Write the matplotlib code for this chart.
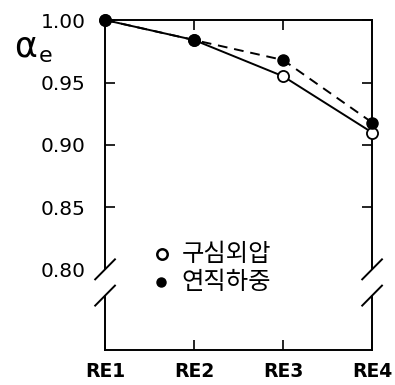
import matplotlib.pyplot as plt
import numpy as np

plt.rcParams['font.family'] = ['DejaVu Sans']

# specimens and effective-width ratio for the two load cases
specimens = ['RE1', 'RE2', 'RE3', 'RE4']
radial_pressure = [1.000, 0.984, 0.955, 0.910]   # 구심외압
vertical_load = [1.000, 0.984, 0.968, 0.918]     # 연직하중
ytick_values = [0.80, 0.85, 0.90, 0.95, 1.00]
ytick_labels = ['0.80', '0.85', '0.90', '0.95', '1.00']
legend_labels = ['구심외압', '연직하중']

fig = plt.figure(figsize=(3.95, 3.85), dpi=100)
ax = fig.add_axes([0.266, 0.091, 0.676, 0.857])

x = np.arange(len(specimens))
ax.plot(x, radial_pressure, color='black', lw=1.4,
        marker='o', ms=8, mfc='white', mec='black', mew=1.3, clip_on=False, zorder=3)
ax.plot(x, vertical_load, color='black', lw=1.4, ls=(0, (5, 3.5)),
        marker='o', ms=8, mfc='black', mec='black', clip_on=False, zorder=4)

ax.set_xlim(0, 3)
ax.set_ylim(0.736, 1.0)
ax.set_xticks(x)
ax.set_xticklabels(specimens, fontsize=13.5, fontweight='bold')
ax.set_yticks(ytick_values)
ax.set_yticklabels(ytick_labels, fontsize=14.5)
ax.tick_params(direction='in', length=7, width=1.2, pad=14,
               top=True, right=True)
ax.tick_params(axis='x', pad=9)

# spines with a break between 0.80 and 0.78
for s in ['left', 'right']:
    ax.spines[s].set_visible(False)
ax.spines['top'].set_linewidth(1.4)
ax.spines['bottom'].set_linewidth(1.4)
trans = ax.get_yaxis_transform()
y_lo, y_hi = 0.7795, 0.8005
for xs in [0, 1]:
    ax.plot([xs, xs], [y_hi, 1.0], color='black', lw=1.4,
            transform=trans, clip_on=False)
    ax.plot([xs, xs], [0.736, y_lo], color='black', lw=1.4,
            transform=trans, clip_on=False)
    for yc in [y_hi, y_lo]:
        ax.plot([xs - 0.037, xs + 0.037], [yc - 0.008, yc + 0.008],
                color='black', lw=1.4, transform=trans, clip_on=False)
# hide tick marks falling in the break
ax.yaxis.get_major_ticks()[0].tick1line.set_visible(False)
ax.yaxis.get_major_ticks()[0].tick2line.set_visible(False)

fig.text(0.036, 0.852, 'α', fontsize=25)
fig.text(0.097, 0.840, 'e', fontsize=16)

# legend drawn by hand inside the axes
ax.plot([0.64], [0.8125], marker='o', ms=7.5, mfc='white', mec='black', mew=1.8, ls='none')
ax.plot([0.63], [0.7905], marker='o', ms=6.5, mfc='black', mec='black', ls='none')
for lbl, yv in zip(legend_labels, [0.8125, 0.7905]):
    ax.text(0.86, yv, lbl, fontsize=17.5, va='center',
            family=['Noto Sans CJK KR', 'DejaVu Sans'])

fig.savefig('out.png')
